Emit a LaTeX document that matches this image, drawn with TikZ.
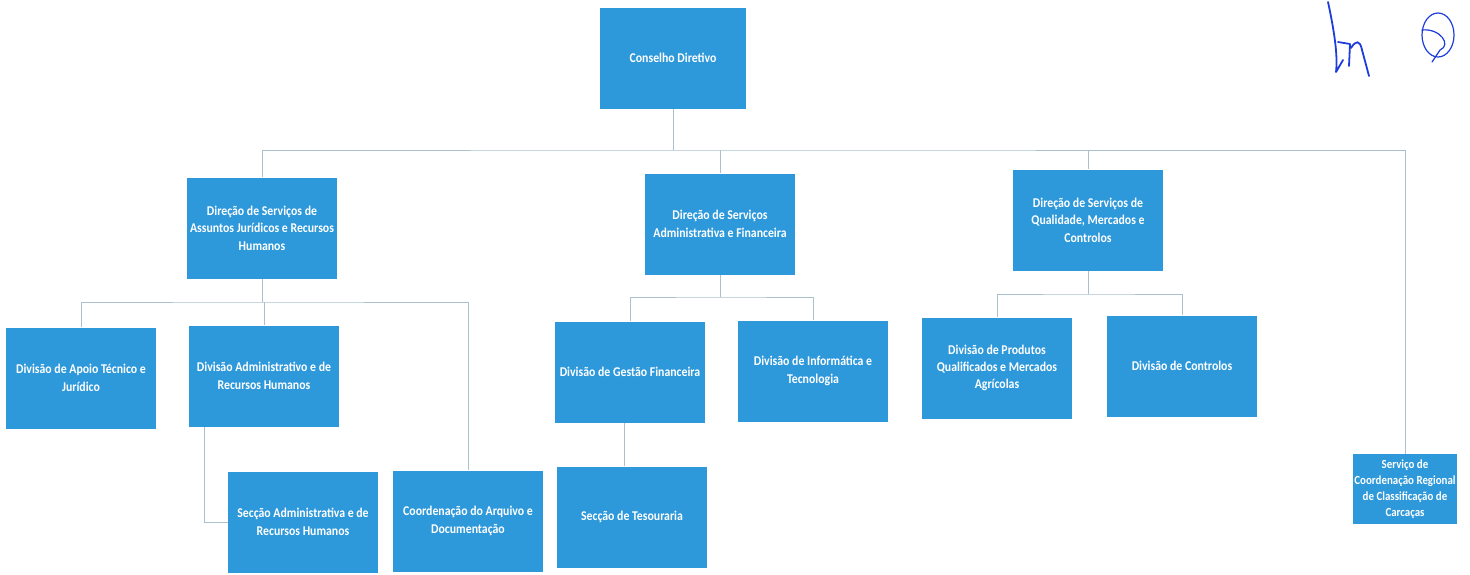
\documentclass[tikz,border=0pt]{standalone}
\usepackage{fontspec}
\setmainfont{Carlito}[FakeStretch=0.88,BoldFeatures={FakeStretch=0.88}]

\definecolor{caixa}{RGB}{45,152,218}
\definecolor{linha}{RGB}{170,192,204}
\definecolor{tinta}{RGB}{30,60,220}

\begin{document}
\begin{tikzpicture}[x=0.5pt,y=-0.5pt,
	unidade/.style={rectangle,fill=caixa,text=white,font=\fontsize{6.7}{8.7}\selectfont\bfseries,
		align=center,inner sep=1pt,minimum width=75pt,minimum height=50.5pt},
	ligacao/.style={draw=linha,line width=0.5pt},
	rubrica/.style={draw=tinta,line width=0.9pt,line cap=round,line join=round}]
		\useasboundingbox (0,0) rectangle (1470,574);
		\node[unidade,minimum width=73pt] (CD) at (673,58)  {Conselho Diretivo};
		\node[unidade] (DSAJRH) at (262,228) {Direção de Serviços de\\Assuntos Jurídicos e Recursos\\Humanos};
		\node[unidade] (DSAF)   at (720,224) {Direção de Serviços\\Administrativa e Financeira};
		\node[unidade] (DSQMC)  at (1088,220) {Direção de Serviços de\\Qualidade, Mercados e\\Controlos};
		\node[unidade] (DATJ)   at (81,378)  {Divisão de Apoio Técnico e\\Jurídico};
		\node[unidade] (DARH)   at (264,376) {Divisão Administrativo e de\\Recursos Humanos};
		\node[unidade] (SARH)   at (303,522) {Secção Administrativa e de\\Recursos Humanos};
		\node[unidade] (CAD)    at (468,521) {Coordenação do Arquivo e\\Documentação};
		\node[unidade] (DGF)    at (630,372) {Divisão de Gestão Financeira};
		\node[unidade] (DIT)    at (813,371) {Divisão de Informática e\\Tecnologia};
		\node[unidade] (ST)     at (632,517) {Secção de Tesouraria};
		\node[unidade] (DPQ)    at (997,368) {Divisão de Produtos\\Qualificados e Mercados\\Agrícolas};
		\node[unidade] (DC)     at (1182,366) {Divisão de Controlos};
		\node[unidade,minimum width=52pt,minimum height=35pt,inner sep=0pt,
			font=\fontsize{6.2}{8}\selectfont\bfseries] (SCRC) at (1405,489)
			{Serviço de\\Coordenação Regional\\de Classificação de\\Carcaças};

		% barramentos
		\coordinate (B0) at (673,150);
		\coordinate (B1) at (262,302);
		\coordinate (B2) at (720,297);
		\coordinate (B3) at (1088,294);

		\draw[ligacao] (CD) -- (B0);
		\draw[ligacao] (DSAJRH.north) |- (B0) -| (SCRC.north);
		\draw[ligacao] (DSAF.north) -- (DSAF.north |- B0);
		\draw[ligacao] (DSQMC.north) -- (DSQMC.north |- B0);

		\draw[ligacao] (DSAJRH) -- (B1);
		\draw[ligacao] (DATJ.north) |- (B1) -| (CAD.north);
		\draw[ligacao] (DARH.north) -- (DARH.north |- B1);
		\draw[ligacao] ([xshift=-30pt]DARH.south) |- (SARH.west);

		\draw[ligacao] (DSAF) -- (B2);
		\draw[ligacao] (DGF.north) |- (B2) -| (DIT.north);
		\draw[ligacao] ([xshift=-3pt]DGF.south) -- ([xshift=-3pt]DGF.south |- ST.north);

		\draw[ligacao] (DSQMC) -- (B3);
		\draw[ligacao] (DPQ.north) |- (B3) -| (DC.north);

		% rubricas
		\draw[rubrica] (1328,2) .. controls (1334,30) and (1338,55) .. (1336,72) -- (1343,60);
		\draw[rubrica] (1338,42) -- (1350,44) -- (1349,66);
		\draw[rubrica] (1351,48) .. controls (1356,40) and (1360,40) .. (1362,50) -- (1369,76);
		\draw[rubrica,line width=0.6pt] (1438,35) ellipse (8pt and 11pt);
		\draw[rubrica,line width=0.6pt] (1422,30) .. controls (1440,28) and (1452,45) .. (1440,50) -- (1432,62);
\end{tikzpicture}
\end{document}
